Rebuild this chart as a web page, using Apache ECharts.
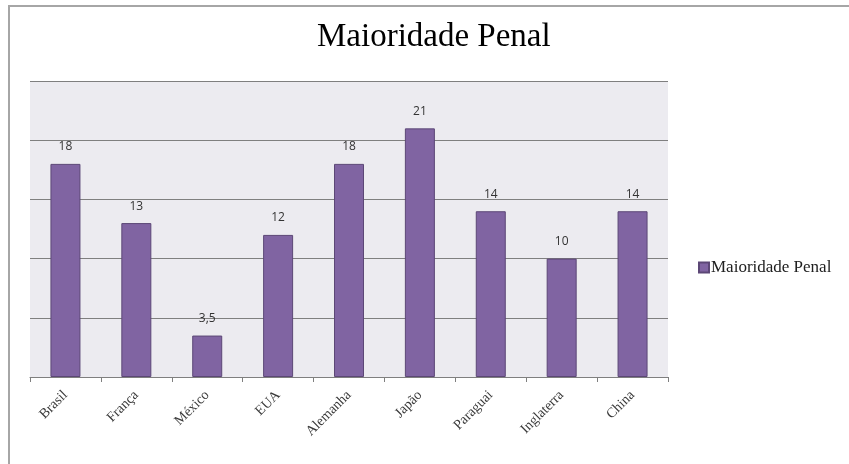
<!DOCTYPE html>
<html lang="pt-BR" style="height: 100%">
<head>
    <meta charset="utf-8">
</head>
<body style="height: 100%; margin: 0">
<div id="container" style="height: 100%"></div>

<script type="text/javascript" src="https://fastly.jsdelivr.net/npm/echarts@6/dist/echarts.min.js"></script>

<script type="text/javascript">
    var dom = document.getElementById('container');
    var myChart = echarts.init(dom, null, {
        renderer: 'canvas',
        useDirtyRect: false
    });

    // dados
    var paises = ['Brasil', 'França', 'México', 'EUA', 'Alemanha', 'Japão', 'Paraguai', 'Inglaterra', 'China'];
    var idades = [18, 13, 3.5, 12, 18, 21, 14, 10, 14];
    var nomeSerie = 'Maioridade Penal';

    var serif = '"Liberation Serif", "DejaVu Serif", serif';

    var option = {
        backgroundColor: '#fff',
        animation: false,
        title: {
            text: 'Maioridade Penal',
            left: 312,
            top: 16,
            textStyle: {
                fontFamily: serif,
                fontSize: 33,
                fontWeight: 'normal',
                color: '#000'
            }
        },
        legend: {
            data: [nomeSerie],
            left: 693,
            top: 254,
            icon: 'rect',
            itemWidth: 10,
            itemHeight: 10,
            itemGap: 4,
            textStyle: {
                fontFamily: serif,
                fontSize: 17,
                color: '#202020',
                padding: [0, 0, 0, -3]
            }
        },
        graphic: [{
            type: 'rect',
            shape: { x: 9, y: 6, width: 860, height: 480 },
            style: { fill: 'none', stroke: '#a6a6a6', lineWidth: 2 },
            silent: true
        }],
        grid: {
            left: 30,
            right: 181,
            top: 81,
            bottom: 87,
            show: true,
            backgroundColor: '#ecebf0',
            borderWidth: 0
        },
        xAxis: {
            type: 'category',
            data: paises,
            axisLine: { lineStyle: { color: '#7f7f7f', width: 1 } },
            axisTick: { show: true, length: 5, lineStyle: { color: '#7f7f7f' } },
            axisLabel: {
                rotate: 45,
                interval: 0,
                margin: 16,
                fontFamily: serif,
                fontSize: 14,
                color: '#3a3a3a'
            }
        },
        yAxis: {
            type: 'value',
            min: 0,
            max: 25,
            interval: 5,
            axisLabel: { show: false },
            axisLine: { show: false },
            axisTick: { show: false },
            splitLine: { lineStyle: { color: '#7f7f7f', width: 1 } }
        },
        series: [{
            name: nomeSerie,
            type: 'bar',
            data: idades,
            barWidth: 30,
            itemStyle: {
                color: '#8064a2',
                borderColor: '#5c4776',
                borderWidth: 1
            },
            label: {
                show: true,
                position: 'top',
                distance: 11,
                fontFamily: '"Open Sans", "DejaVu Sans", sans-serif',
                fontSize: 12,
                color: '#333',
                formatter: function (p) {
                    return String(p.value).replace('.', ',');
                }
            }
        }]
    };

    myChart.setOption(option);
    window.addEventListener('resize', myChart.resize);
</script>
</body>
</html>
